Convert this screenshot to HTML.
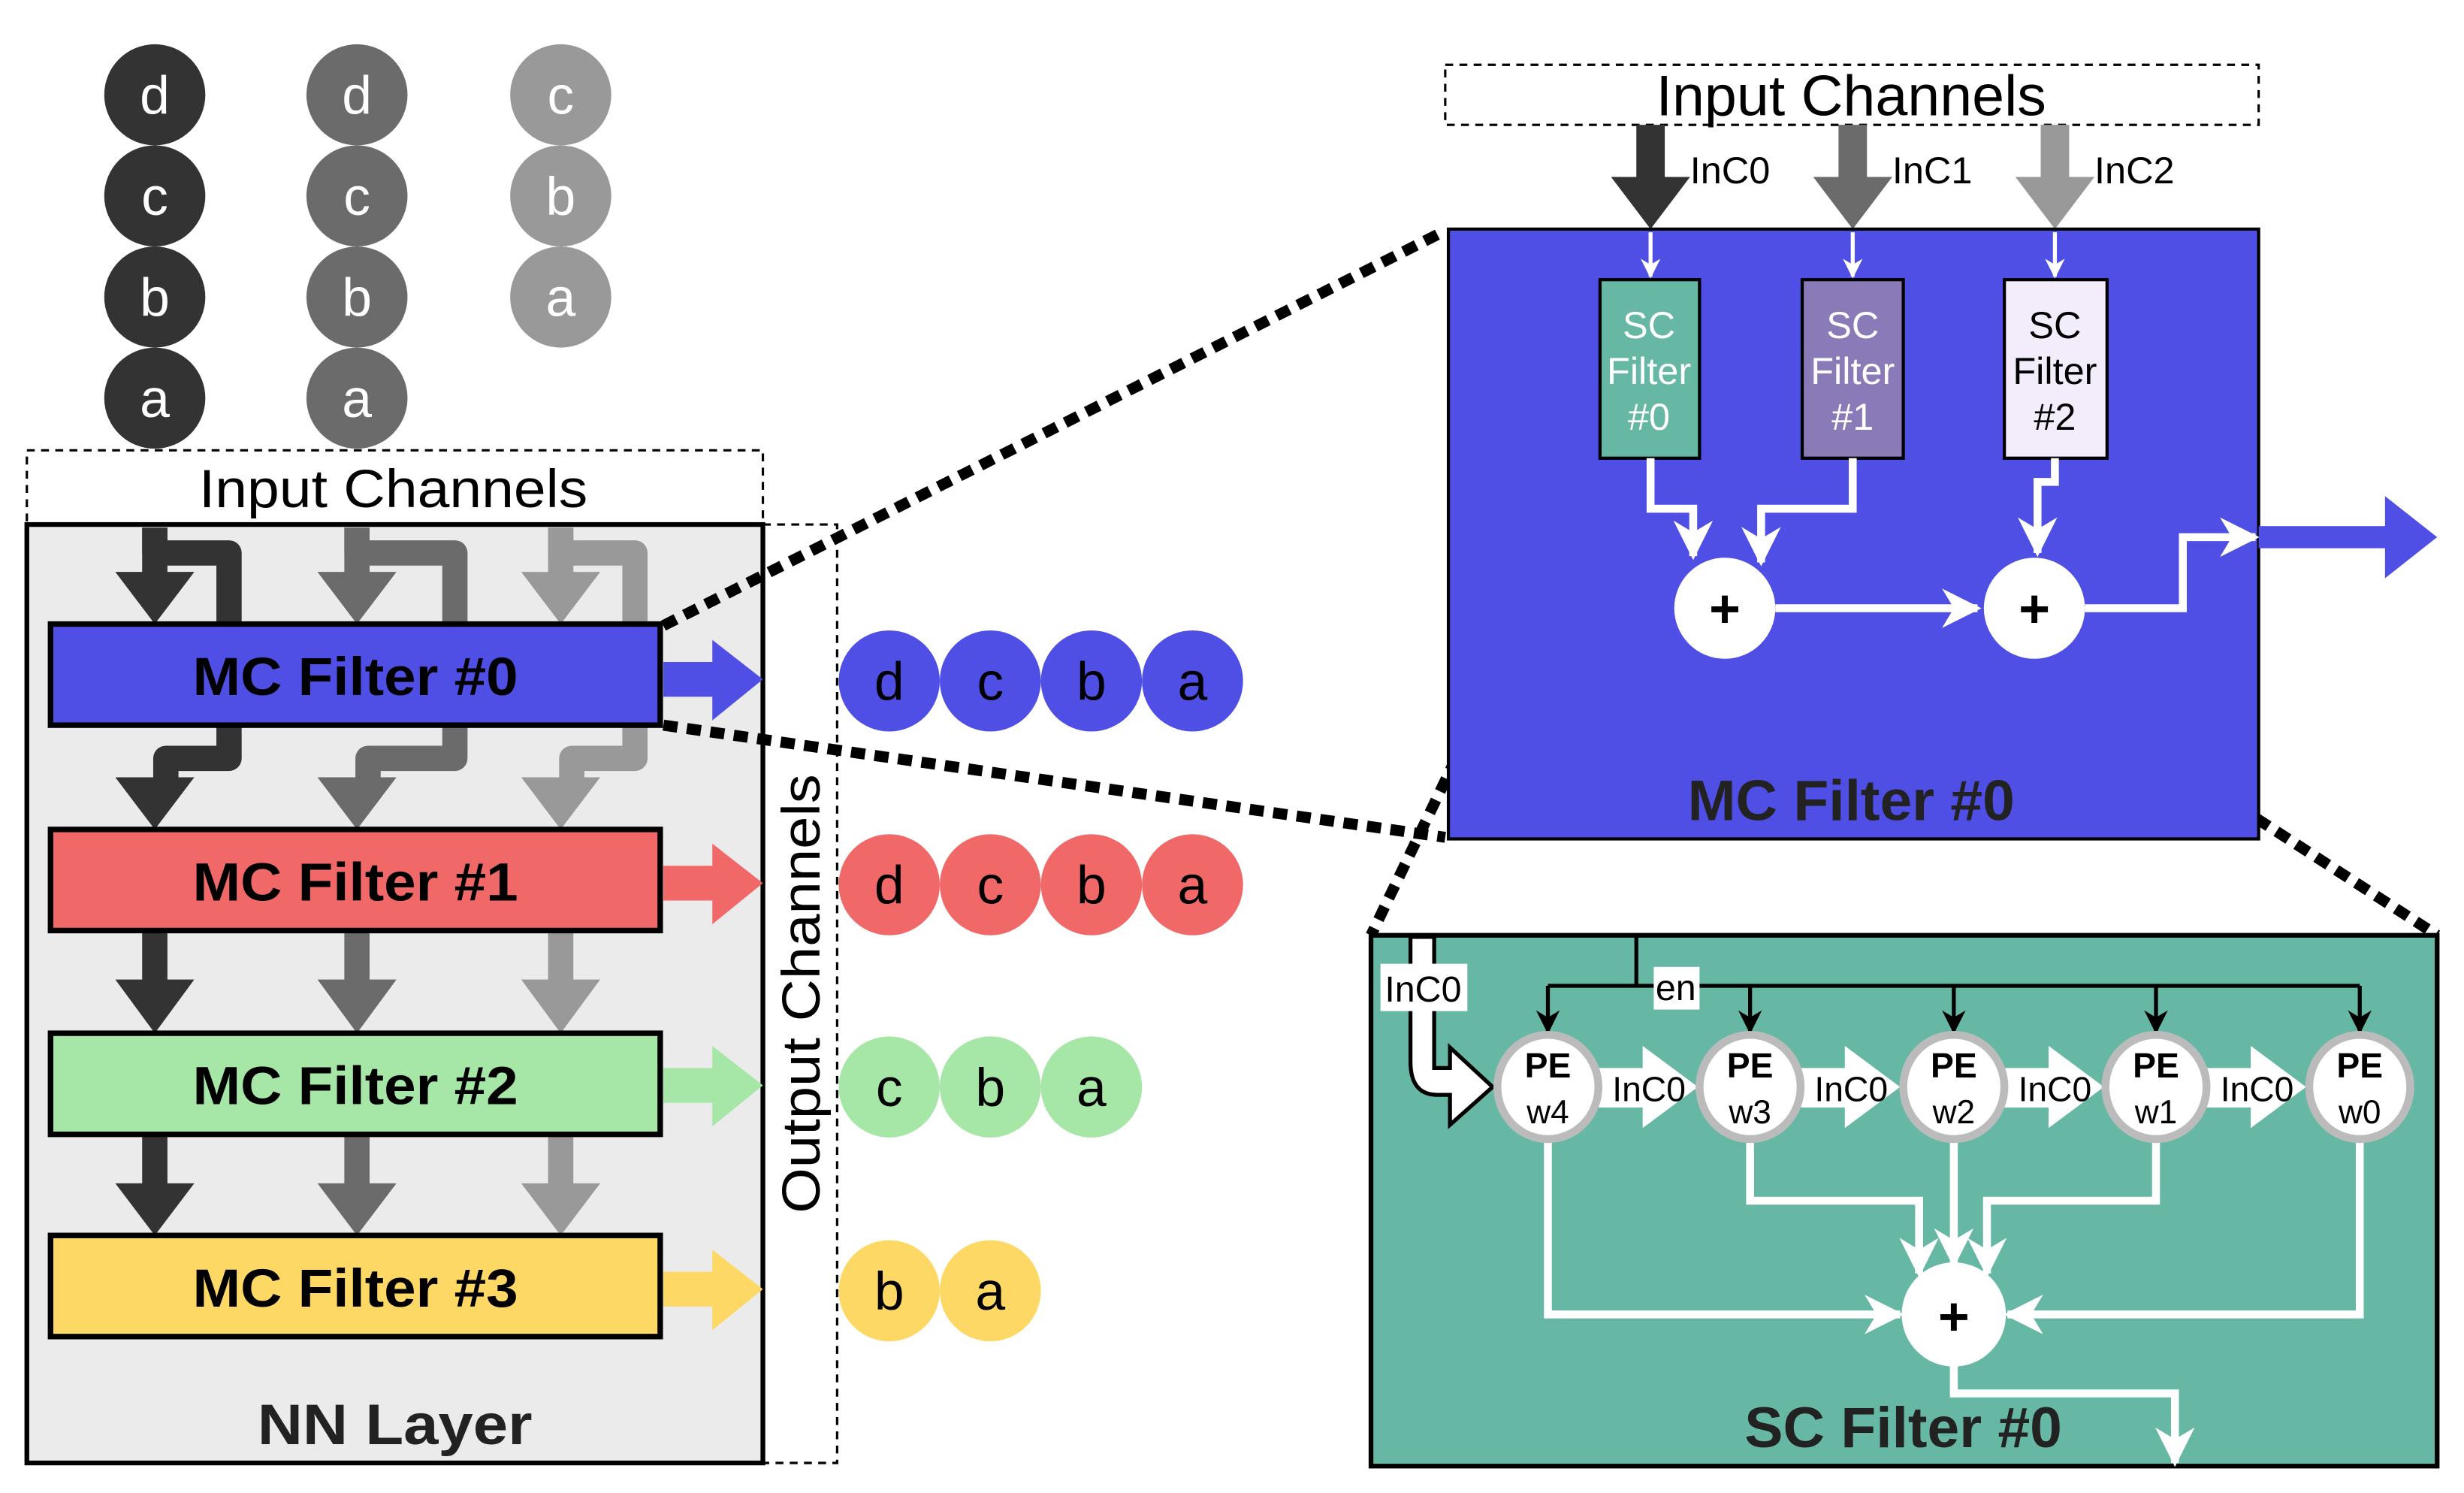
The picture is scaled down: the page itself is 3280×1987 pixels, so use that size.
<!DOCTYPE html>
<html><head><meta charset="utf-8"><style>html,body{margin:0;padding:0;background:#fff}svg{display:block}</style></head>
<body>
<svg width="3280" height="1987" viewBox="0 0 1560 945" xmlns="http://www.w3.org/2000/svg" font-family="Liberation Sans, sans-serif">
<defs>
<marker id="wa" viewBox="0 0 10 10" refX="9" refY="5" markerWidth="5" markerHeight="5" orient="auto" markerUnits="strokeWidth"><path d="M0,0 L10,5 L0,10 L3,5 z" fill="#fff"/></marker>
<marker id="ba" viewBox="0 0 10 10" refX="9" refY="5" markerWidth="6" markerHeight="6" orient="auto" markerUnits="strokeWidth"><path d="M0,0 L10,5 L0,10 L3,5 z" fill="#000"/></marker>
</defs>
<rect width="1560" height="945" fill="#fff"/>
<g font-size="34" fill="#fff" text-anchor="middle">
<g fill="#333"><circle cx="98" cy="60" r="32"/><circle cx="98" cy="124" r="32"/><circle cx="98" cy="188" r="32"/><circle cx="98" cy="252" r="32"/></g>
<g fill="#6b6b6b"><circle cx="226" cy="60" r="32"/><circle cx="226" cy="124" r="32"/><circle cx="226" cy="188" r="32"/><circle cx="226" cy="252" r="32"/></g>
<g fill="#999"><circle cx="355" cy="60" r="32"/><circle cx="355" cy="124" r="32"/><circle cx="355" cy="188" r="32"/></g>
<text x="98" y="72">d</text><text x="98" y="136">c</text><text x="98" y="200">b</text><text x="98" y="264">a</text>
<text x="226" y="72">d</text><text x="226" y="136">c</text><text x="226" y="200">b</text><text x="226" y="264">a</text>
<text x="355" y="72">c</text><text x="355" y="136">b</text><text x="355" y="200">a</text>
</g>
<rect x="17" y="285" width="466" height="47" fill="none" stroke="#000" stroke-width="1.5" stroke-dasharray="5,4"/>
<text x="249" y="321" font-size="34" text-anchor="middle" textLength="246" lengthAdjust="spacingAndGlyphs">Input Channels</text>
<rect x="17" y="332" width="466" height="594" fill="#ebebeb" stroke="#000" stroke-width="3"/>
<rect x="483" y="332" width="47" height="594" fill="none" stroke="#000" stroke-width="1.5" stroke-dasharray="5,4"/>
<text transform="translate(519,629) rotate(-90)" font-size="34" text-anchor="middle" textLength="278" lengthAdjust="spacingAndGlyphs">Output Channels</text>
<g fill="none" stroke-width="16" stroke-linejoin="round">
<path d="M98,334 V350 H145 V480 H105 V500" stroke="#333"/>
<path d="M226,334 V350 H288 V480 H233 V500" stroke="#6b6b6b"/>
<path d="M355,334 V350 H402 V480 H362 V500" stroke="#999"/>
</g>
<g>
<g fill="#333"><rect x="90" y="334" width="16" height="30"/><polygon points="73,362 123,362 98,395"/><polygon points="73,492 123,492 98,525"/><rect x="90" y="589" width="16" height="33"/><polygon points="73,620 123,620 98,654"/><rect x="90" y="718" width="16" height="33"/><polygon points="73,749 123,749 98,782"/></g>
<g fill="#6b6b6b"><rect x="218" y="334" width="16" height="30"/><polygon points="201,362 251,362 226,395"/><polygon points="201,492 251,492 226,525"/><rect x="218" y="589" width="16" height="33"/><polygon points="201,620 251,620 226,654"/><rect x="218" y="718" width="16" height="33"/><polygon points="201,749 251,749 226,782"/></g>
<g fill="#999"><rect x="347" y="334" width="16" height="30"/><polygon points="330,362 380,362 355,395"/><polygon points="330,492 380,492 355,525"/><rect x="347" y="589" width="16" height="33"/><polygon points="330,620 380,620 355,654"/><rect x="347" y="718" width="16" height="33"/><polygon points="330,749 380,749 355,782"/></g>
</g>
<g stroke="#000" stroke-width="3.5">
<rect x="32" y="395" width="386" height="64" fill="#4f4fe6"/>
<rect x="32" y="525" width="386" height="64" fill="#f06868"/>
<rect x="32" y="654" width="386" height="64" fill="#a6e6a6"/>
<rect x="32" y="782" width="386" height="64" fill="#fdd865"/>
</g>
<g font-size="34" font-weight="bold" text-anchor="middle">
<text x="225" y="440" textLength="206" lengthAdjust="spacingAndGlyphs">MC Filter #0</text><text x="225" y="570" textLength="206" lengthAdjust="spacingAndGlyphs">MC Filter #1</text><text x="225" y="699" textLength="206" lengthAdjust="spacingAndGlyphs">MC Filter #2</text><text x="225" y="827" textLength="206" lengthAdjust="spacingAndGlyphs">MC Filter #3</text>
</g>
<g><rect x="420" y="419" width="36" height="22" fill="#4f4fe6"/><polygon points="451,405 483,430 451,456" fill="#4f4fe6"/>
<rect x="420" y="548" width="36" height="22" fill="#f06868"/><polygon points="451,534 483,559 451,585" fill="#f06868"/>
<rect x="420" y="676" width="36" height="22" fill="#a6e6a6"/><polygon points="451,662 483,687 451,713" fill="#a6e6a6"/>
<rect x="420" y="805" width="36" height="22" fill="#fdd865"/><polygon points="451,791 483,816 451,842" fill="#fdd865"/></g>
<g font-size="34" text-anchor="middle" fill="#000">
<g fill="#4f4fe6"><circle cx="563" cy="431" r="32"/><circle cx="627" cy="431" r="32"/><circle cx="691" cy="431" r="32"/><circle cx="755" cy="431" r="32"/></g>
<g fill="#f06868"><circle cx="563" cy="560" r="32"/><circle cx="627" cy="560" r="32"/><circle cx="691" cy="560" r="32"/><circle cx="755" cy="560" r="32"/></g>
<g fill="#a6e6a6"><circle cx="563" cy="688" r="32"/><circle cx="627" cy="688" r="32"/><circle cx="691" cy="688" r="32"/></g>
<g fill="#fdd865"><circle cx="563" cy="817" r="32"/><circle cx="627" cy="817" r="32"/></g>
<text x="563" y="443">d</text><text x="627" y="443">c</text><text x="691" y="443">b</text><text x="755" y="443">a</text>
<text x="563" y="572">d</text><text x="627" y="572">c</text><text x="691" y="572">b</text><text x="755" y="572">a</text>
<text x="563" y="700">c</text><text x="627" y="700">b</text><text x="691" y="700">a</text>
<text x="563" y="829">b</text><text x="627" y="829">a</text>
</g>
<text x="250" y="914" font-size="36" font-weight="bold" text-anchor="middle" fill="#222" textLength="174" lengthAdjust="spacingAndGlyphs">NN Layer</text>
<g stroke="#000" stroke-width="7" stroke-dasharray="9,6">
<line x1="420" y1="396" x2="915" y2="146"/><line x1="420" y1="459" x2="915" y2="530"/>
<line x1="1013" y1="290" x2="868" y2="592"/><line x1="1076" y1="290" x2="1543" y2="592"/>
</g>
<rect x="915" y="41" width="515" height="38" fill="none" stroke="#000" stroke-width="1.5" stroke-dasharray="5,4"/>
<text x="1172" y="73" font-size="36" text-anchor="middle" textLength="247" lengthAdjust="spacingAndGlyphs">Input Channels</text>
<g><rect x="1036" y="79" width="18" height="35" fill="#333"/><polygon points="1020,112 1070,112 1045,145" fill="#333"/>
<rect x="1164" y="79" width="18" height="35" fill="#6b6b6b"/><polygon points="1148,112 1198,112 1173,145" fill="#6b6b6b"/>
<rect x="1292" y="79" width="18" height="35" fill="#999"/><polygon points="1276,112 1326,112 1301,145" fill="#999"/></g>
<g font-size="24"><text x="1070" y="116">InC0</text><text x="1198" y="116">InC1</text><text x="1326" y="116">InC2</text></g>
<rect x="917" y="145" width="513" height="386" fill="#4f4fe6" stroke="#000" stroke-width="2"/>
<g stroke="#fff" stroke-width="2.5"><line x1="1045" y1="147" x2="1045" y2="175" marker-end="url(#wa)"/><line x1="1173" y1="147" x2="1173" y2="175" marker-end="url(#wa)"/><line x1="1301" y1="147" x2="1301" y2="175" marker-end="url(#wa)"/></g>
<rect x="1013" y="177" width="63" height="113" fill="#66b8a4" stroke="#000" stroke-width="2"/>
<rect x="1141" y="177" width="64" height="113" fill="#8a7ab8" stroke="#000" stroke-width="2"/>
<rect x="1269" y="177" width="65" height="113" fill="#f3edfb" stroke="#000" stroke-width="2"/>
<g font-size="24" text-anchor="middle">
<g fill="#fff"><text x="1044" y="214">SC</text><text x="1044" y="243">Filter</text><text x="1044" y="272">#0</text>
<text x="1173" y="214">SC</text><text x="1173" y="243">Filter</text><text x="1173" y="272">#1</text></g>
<text x="1301" y="214">SC</text><text x="1301" y="243">Filter</text><text x="1301" y="272">#2</text>
</g>
<g stroke="#fff" stroke-width="5" fill="none">
<path d="M1045,290 V322 H1072 V352" marker-end="url(#wa)"/>
<path d="M1173,290 V322 H1115 V356" marker-end="url(#wa)"/>
<path d="M1124,385 H1252" marker-end="url(#wa)"/>
<path d="M1301,290 V305 H1290 V350" marker-end="url(#wa)"/>
<path d="M1320,385 H1382 V340 H1428" marker-end="url(#wa)"/>
</g>
<circle cx="1092" cy="385" r="32" fill="#fff"/><circle cx="1288" cy="385" r="32" fill="#fff"/>
<g font-size="34" font-weight="bold" text-anchor="middle"><text x="1092" y="397">+</text><text x="1288" y="397">+</text></g>
<rect x="1430" y="333" width="82" height="14" fill="#4f4fe6"/><polygon points="1510,314 1543,340 1510,366" fill="#4f4fe6"/>
<text x="1172" y="519" font-size="36" font-weight="bold" text-anchor="middle" fill="#222" textLength="207" lengthAdjust="spacingAndGlyphs">MC Filter #0</text>
<rect x="868" y="592" width="675" height="336" fill="#66b8a4" stroke="#000" stroke-width="3"/>
<path d="M893,593 V672 Q893,693 910,693 H918 V712 L945,688 L918,663 V676 H908 V593 z" fill="#fff" stroke="#000" stroke-width="2.5"/>
<rect x="874" y="610" width="55" height="30" fill="#fff"/>
<text x="901" y="634" font-size="23" text-anchor="middle">InC0</text>
<g stroke="#000" stroke-width="2.5" fill="none">
<line x1="1036" y1="593" x2="1036" y2="624"/>
<line x1="980" y1="624" x2="1494" y2="624"/>
<g marker-end="url(#ba)"><line x1="980" y1="624" x2="980" y2="653"/><line x1="1108" y1="624" x2="1108" y2="653"/><line x1="1237" y1="624" x2="1237" y2="653"/><line x1="1365" y1="624" x2="1365" y2="653"/><line x1="1494" y1="624" x2="1494" y2="653"/></g>
</g>
<rect x="1047" y="612" width="29" height="27" fill="#fff"/>
<text x="1061" y="633" font-size="23" text-anchor="middle">en</text>
<g fill="#fff">
<rect x="1012" y="676" width="30" height="25"/><polygon points="1040,662 1075,688 1040,714"/>
<rect x="1140" y="676" width="30" height="25"/><polygon points="1168,662 1203,688 1168,714"/>
<rect x="1269" y="676" width="30" height="25"/><polygon points="1297,662 1332,688 1297,714"/>
<rect x="1397" y="676" width="30" height="25"/><polygon points="1425,662 1460,688 1425,714"/>
</g>
<g font-size="22" text-anchor="middle"><text x="1044" y="697">InC0</text><text x="1172" y="697">InC0</text><text x="1301" y="697">InC0</text><text x="1429" y="697">InC0</text></g>
<g stroke="#fff" stroke-width="5" fill="none">
<path d="M980,720 V832 H1203" marker-end="url(#wa)"/>
<path d="M1494,720 V832 H1271" marker-end="url(#wa)"/>
<path d="M1108,720 V760 H1215 V806" marker-end="url(#wa)"/>
<path d="M1237,720 V800" marker-end="url(#wa)"/>
<path d="M1365,720 V760 H1258 V806" marker-end="url(#wa)"/>
<path d="M1237,864 V882 H1377 V926" marker-end="url(#wa)"/>
</g>
<g fill="#fff" stroke="#bbb" stroke-width="5">
<ellipse cx="980" cy="688" rx="32" ry="33"/><ellipse cx="1108" cy="688" rx="32" ry="33"/><ellipse cx="1237" cy="688" rx="32" ry="33"/><ellipse cx="1365" cy="688" rx="32" ry="33"/><ellipse cx="1494" cy="688" rx="32" ry="33"/>
</g>
<g text-anchor="middle">
<g font-size="22" font-weight="bold"><text x="980" y="682">PE</text><text x="1108" y="682">PE</text><text x="1237" y="682">PE</text><text x="1365" y="682">PE</text><text x="1494" y="682">PE</text></g>
<g font-size="21"><text x="980" y="711">w4</text><text x="1108" y="711">w3</text><text x="1237" y="711">w2</text><text x="1365" y="711">w1</text><text x="1494" y="711">w0</text></g>
</g>
<circle cx="1237" cy="832" r="33" fill="#fff"/>
<text x="1237" y="845" font-size="34" font-weight="bold" text-anchor="middle">+</text>
<text x="1205" y="916" font-size="36" font-weight="bold" text-anchor="middle" fill="#222" textLength="201" lengthAdjust="spacingAndGlyphs">SC Filter #0</text>
</svg>
</body></html>
